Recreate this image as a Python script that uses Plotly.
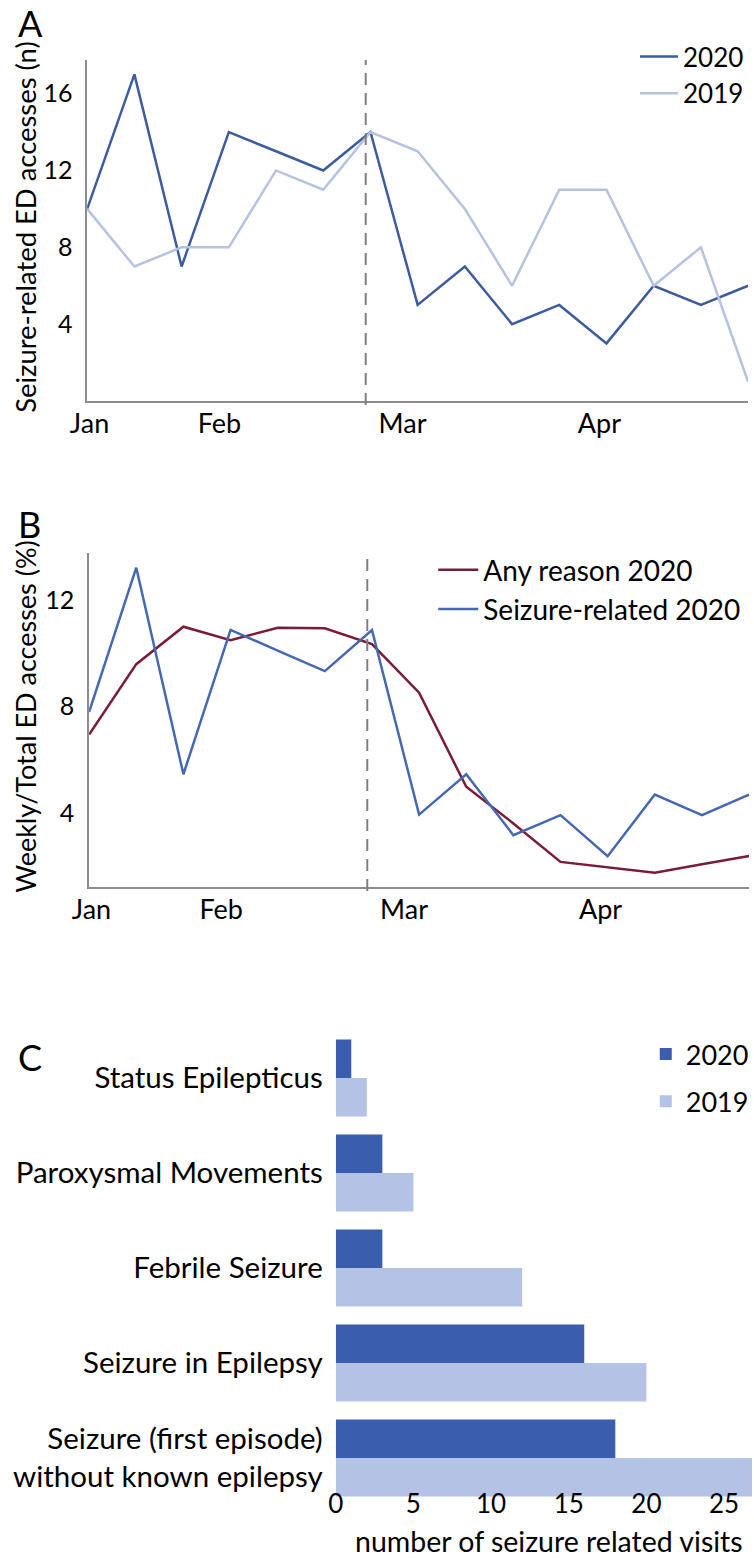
import plotly.graph_objects as go

# ---------------- data ----------------
weeks = [1, 2, 3, 4, 5, 6, 7, 8, 9, 10, 11, 12, 13, 14, 15]
month_labels = ["Jan", "Feb", "Mar", "Apr"]
month_tick_weeks = [1.05, 3.8, 7.68, 11.85]
lockdown_week = 6.9

seizure_2020 = [10, 17, 7, 14, 13, 12, 14, 5, 7, 4, 5, 3, 6, 5, 6]
seizure_2019 = [10, 7, 8, 8, 12, 11, 14, 13, 10, 6, 11, 11, 6, 8, 1]

pct_any_2020 = [6.96, 9.59, 10.99, 10.49, 10.95, 10.93, 10.34, 8.52, 5.0, 3.63, 2.19, 1.98, 1.78, 2.1, 2.41]
pct_seizure_2020 = [7.8, 13.2, 5.47, 10.87, 10.1, 9.33, 10.87, 3.96, 5.47, 3.19, 3.94, 2.4, 4.71, 3.94, 4.71]

categories = [
    "Status Epilepticus",
    "Paroxysmal Movements",
    "Febrile Seizure",
    "Seizure in Epilepsy",
    "Seizure (first episode)<br>without known epilepsy",
]
visits_2020 = [1, 3, 3, 16, 18]
visits_2019 = [2, 5, 12, 20, 27]

# ---------------- styles ----------------
FONT = "Lato"
W, H = 754, 1558
C_2020_LINE = "#3D5C9E"
C_2019_LINE = "#B5C2E0"
C_ANY = "#7A1C36"
C_SEIZ = "#4568B0"
C_BAR20 = "#3B5DAE"
C_BAR19 = "#B4C2E6"
AXIS_COL = "#8C8C8C"


def px_x(px):
    return px / W


def px_y(py):
    return 1 - py / H


fig = go.Figure()

# Panel A
fig.add_trace(go.Scatter(x=weeks, y=seizure_2020, mode="lines", name="2020",
                         line=dict(color=C_2020_LINE, width=2.5),
                         xaxis="x", yaxis="y", legend="legend"))
fig.add_trace(go.Scatter(x=weeks, y=seizure_2019, mode="lines", name="2019",
                         line=dict(color=C_2019_LINE, width=2.5),
                         xaxis="x", yaxis="y", legend="legend"))

# Panel B
fig.add_trace(go.Scatter(x=weeks, y=pct_any_2020, mode="lines", name="Any reason 2020",
                         line=dict(color=C_ANY, width=2.5),
                         xaxis="x2", yaxis="y2", legend="legend2"))
fig.add_trace(go.Scatter(x=weeks, y=pct_seizure_2020, mode="lines", name="Seizure-related 2020",
                         line=dict(color=C_SEIZ, width=2.5),
                         xaxis="x2", yaxis="y2", legend="legend2"))

# Panel C
fig.add_trace(go.Bar(y=categories, x=visits_2020, orientation="h", name="2020",
                     marker=dict(color=C_BAR20, line=dict(width=0)),
                     xaxis="x3", yaxis="y3", legend="legend3", legendgroup="a"))
fig.add_trace(go.Bar(y=categories, x=visits_2019, orientation="h", name="2019",
                     marker=dict(color=C_BAR19, line=dict(width=0)),
                     xaxis="x3", yaxis="y3", legend="legend3", legendgroup="b"))

ytickfont = dict(family=FONT, size=25, color="black")
xtickfont = dict(family=FONT, size=27, color="black")

line_axis = dict(showgrid=False, zeroline=False, showline=True, linecolor=AXIS_COL,
                 linewidth=1.5, ticks="")

# category axis of panel C: bars of last group end at 4.405
C_TOP, C_BOTTOM = -0.5, 4.42
C_PX_TOP, C_PX_PER_CAT = 1030.5, 95.0
C_PX_BOTTOM = C_PX_TOP + (C_BOTTOM - C_TOP) * C_PX_PER_CAT

fig.update_layout(
    width=W, height=H,
    margin=dict(l=0, r=0, t=0, b=0),
    paper_bgcolor="white", plot_bgcolor="white",
    font=dict(family=FONT, size=26, color="black"),
    barmode="group", bargap=0.19, bargroupgap=0,
    xaxis=dict(line_axis, domain=[px_x(72), px_x(750)], range=[1, 15], anchor="y",
               tickmode="array", tickvals=month_tick_weeks, ticktext=month_labels,
               tickfont=xtickfont, ticklabelstandoff=-2),
    yaxis=dict(line_axis, domain=[px_y(401), px_y(60)], range=[0, 17.75], anchor="x",
               tickmode="array", tickvals=[4, 8, 12, 16], tickfont=ytickfont,
               ticklabelstandoff=8),
    xaxis2=dict(line_axis, domain=[px_x(74), px_x(751)], range=[1, 15], anchor="y2",
                tickmode="array", tickvals=month_tick_weeks, ticktext=month_labels,
                tickfont=xtickfont, ticklabelstandoff=-2),
    yaxis2=dict(line_axis, domain=[px_y(887), px_y(553)], range=[1.25, 13.75], anchor="x2",
                tickmode="array", tickvals=[4, 8, 12], tickfont=ytickfont,
                ticklabelstandoff=8),
    xaxis3=dict(showgrid=False, zeroline=False, showline=False, ticks="",
                domain=[px_x(327), 1.0], range=[0, 26.8], anchor="y3",
                tickmode="array", tickvals=[0, 5, 10, 15, 20, 25],
                tickfont=dict(family=FONT, size=26, color="black"), ticklabelstandoff=-12),
    yaxis3=dict(showgrid=False, zeroline=False, showline=False, ticks="",
                domain=[px_y(C_PX_BOTTOM), px_y(C_PX_TOP)], range=[C_BOTTOM, C_TOP],
                anchor="x3", type="category",
                tickfont=dict(family=FONT, size=29.5, color="black"), ticklabelstandoff=12),
    legend=dict(x=px_x(634), y=px_y(33), xanchor="left", yanchor="top",
                font=dict(family=FONT, size=26), bgcolor="rgba(0,0,0,0)",
                tracegroupgap=0, itemwidth=38),
    legend2=dict(x=px_x(427), y=px_y(545), xanchor="left", yanchor="top",
                 font=dict(family=FONT, size=28), bgcolor="rgba(0,0,0,0)",
                 itemwidth=40),
    legend3=dict(x=px_x(645), y=px_y(1030), xanchor="left", yanchor="top",
                 font=dict(family=FONT, size=27), bgcolor="rgba(0,0,0,0)",
                 tracegroupgap=9, itemwidth=30),
)

# lockdown dashed lines
for xa, ya in (("x", "y"), ("x2", "y2")):
    fig.add_shape(type="line", xref=xa, yref=f"{ya} domain",
                  x0=lockdown_week, x1=lockdown_week, y0=-0.012, y1=1.0,
                  line=dict(color="#7F7F7F", width=2, dash="12px,8px"))

annotations = [
    dict(text="A", x=px_x(14), y=px_y(23), xanchor="center", yanchor="middle",
         font=dict(family=FONT, size=36, color="black")),
    dict(text="B", x=px_x(13), y=px_y(524), xanchor="center", yanchor="middle",
         font=dict(family=FONT, size=36, color="black")),
    dict(text="C", x=px_x(13), y=px_y(1057), xanchor="center", yanchor="middle",
         font=dict(family=FONT, size=36, color="black")),
    dict(text="Seizure-related ED accesses (n)", textangle=-90,
         x=px_x(8), y=px_y(227), xanchor="center", yanchor="middle",
         font=dict(family=FONT, size=27.4, color="black")),
    dict(text="Weekly/Total ED accesses (%)", textangle=-90,
         x=px_x(8), y=px_y(716), xanchor="center", yanchor="middle",
         font=dict(family=FONT, size=27, color="black")),
    dict(text="number of seizure related visits", x=px_x(546), y=px_y(1541),
         xanchor="center", yanchor="middle", font=dict(family=FONT, size=28.5, color="black")),
]
for a in annotations:
    a.update(xref="paper", yref="paper", showarrow=False)
fig.update_layout(annotations=annotations)

fig.write_html(
    "out.html",
    config={"displayModeBar": False},
    post_script="document.body.style.margin='0';document.body.style.overflow='hidden';",
)
